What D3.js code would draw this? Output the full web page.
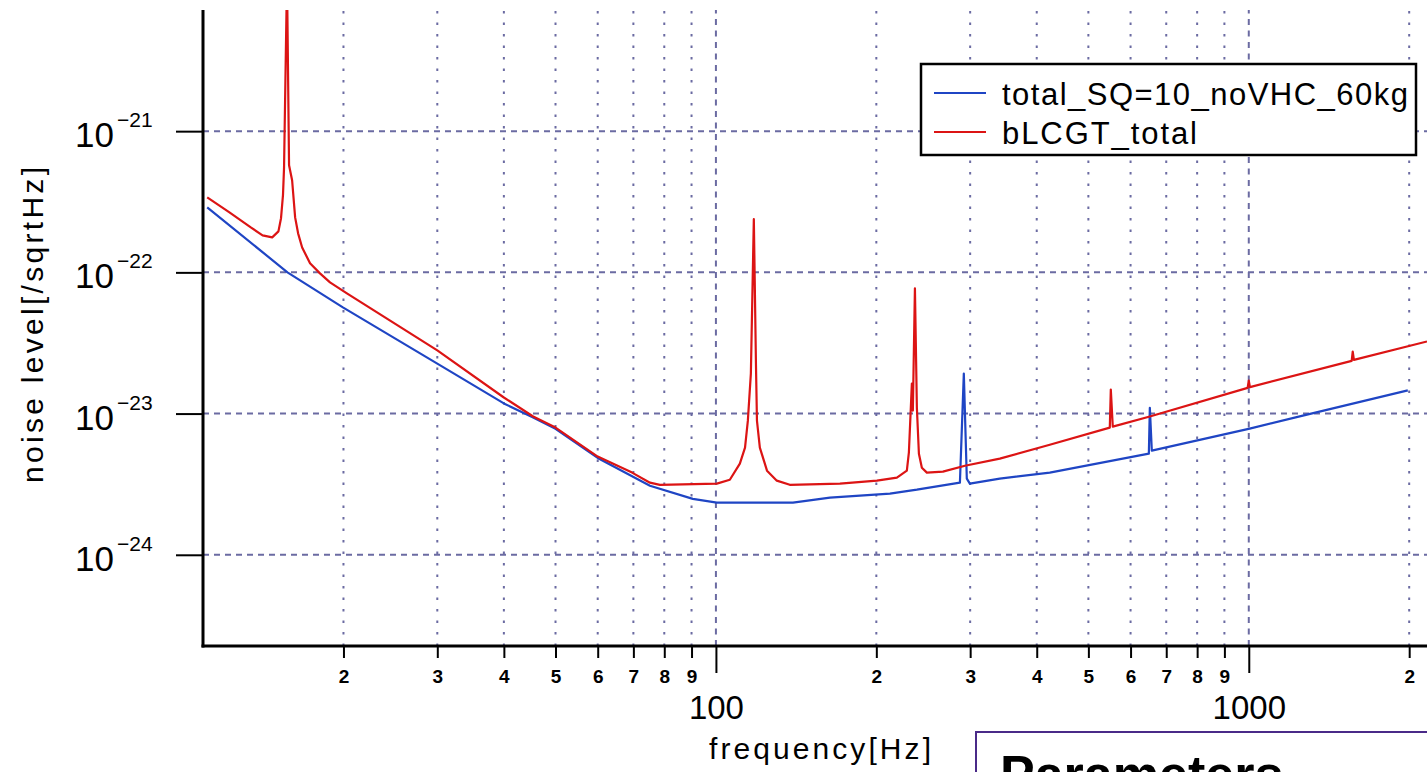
<!DOCTYPE html>
<html>
<head>
<meta charset="utf-8">
<script src="https://cdn.jsdelivr.net/npm/d3@7"></script>
<style>
  body { margin: 0; background: #fff; }
  svg { display: block; }
  text { font-family: "Liberation Sans", Arial, sans-serif; fill: #000; }
</style>
</head>
<body>
<script>
// total_SQ=10_noVHC_60kg (blue)
const sqFreq = [11.1, 15.7, 19.95, 30.0, 40.0, 45.4, 50.0, 60.0, 75.2, 90.5, 100.4, 139.5, 163.7, 212.1,
  238.3, 263.3, 287.0, 291.9, 295.7, 299.6, 341.0, 423.2, 649.3, 652.1, 657.7, 1004, 1263, 1988];
const sqNoise = [2.89e-22, 1.0e-22, 5.65e-23, 2.26e-23, 1.18e-23, 9.37e-24, 7.8e-24, 4.85e-24, 3.08e-24, 2.49e-24,
  2.34e-24, 2.34e-24, 2.54e-24, 2.71e-24, 2.89e-24, 3.08e-24, 3.24e-24, 1.92e-23, 3.46e-24, 3.19e-24,
  3.46e-24, 3.82e-24, 5.20e-24, 1.10e-23, 5.47e-24, 7.83e-24, 9.68e-24, 1.46e-23];

// bLCGT_total (red)
const bFreq = [11.1, 12.2, 13.4, 14.1, 14.7, 15.1, 15.27, 15.40, 15.47, 15.67, 15.81, 16.02, 16.23, 16.44,
  16.73, 17.31, 18.07, 18.87, 20.3, 30.0, 40.0, 45.4, 50.0, 60.0, 69.6, 75.2, 78.5, 100.4, 106.2, 110.9,
  113.4, 114.8, 116.3, 117.8, 118.9, 119.4, 120.9, 124.7, 130.1, 137.6, 170.9, 200.5, 218.6, 228.2,
  230.2, 233.2, 234.2, 236.3, 238.3, 240.4, 243.5, 248.8, 266.7, 293.3, 341.0, 423.2, 548.5, 550.9,
  555.6, 652.1, 995, 1000, 1005, 1560, 1567, 1575, 2160];
const bNoise = [3.40e-22, 2.67e-22, 2.08e-22, 1.83e-22, 1.77e-22, 1.95e-22, 2.42e-22, 3.52e-22, 5.47e-22,
  1.2e-20, 5.74e-22, 4.49e-22, 2.45e-22, 1.89e-22, 1.50e-22, 1.16e-22, 9.84e-23, 8.49e-23, 7.10e-23,
  2.80e-23, 1.30e-23, 9.53e-24, 7.96e-24, 4.96e-24, 3.82e-24, 3.24e-24, 3.13e-24, 3.19e-24, 3.40e-24,
  4.42e-24, 5.74e-24, 8.91e-24, 1.92e-23, 2.38e-22, 2.19e-23, 8.91e-24, 5.74e-24, 3.94e-24, 3.35e-24,
  3.13e-24, 3.19e-24, 3.35e-24, 3.52e-24, 3.94e-24, 5.28e-24, 1.63e-23, 1.05e-23, 7.71e-23, 1.10e-23,
  5.20e-24, 4.14e-24, 3.82e-24, 3.88e-24, 4.27e-24, 4.80e-24, 6.02e-24, 7.96e-24, 1.48e-23, 8.09e-24,
  9.53e-24, 1.52e-23, 1.71e-23, 1.54e-23, 2.36e-23, 2.75e-23, 2.40e-23, 3.24e-23];

const minorTicks = [20, 30, 40, 50, 60, 70, 80, 90, 200, 300, 400, 500, 600, 700, 800, 900, 2000];
const majorTicks = [100, 1000];
const yTicks = [1e-21, 1e-22, 1e-23, 1e-24];
const seriesNames = ["total_SQ=10_noVHC_60kg", "bLCGT_total"];

const width = 1427, height = 772;
const margin = { top: 10, right: 0, bottom: 126, left: 203 };
const blue = "#1f45c4", red = "#dc1414", gridColor = "#6b6ba2";

const svg = d3.select("body").append("svg")
  .attr("width", width)
  .attr("height", height);

const x = d3.scaleLog().domain([10.9, 2160]).range([margin.left, width - margin.right]);
const y = d3.scaleLog().domain([2.26e-25, 7.21e-21]).range([height - margin.bottom, margin.top]);

svg.append("clipPath").attr("id", "plot")
  .append("rect")
  .attr("x", margin.left).attr("y", margin.top)
  .attr("width", width - margin.left - margin.right)
  .attr("height", height - margin.top - margin.bottom);

// grid
const grid = svg.append("g");
grid.selectAll(".vminor").data(minorTicks).enter().append("line")
  .attr("x1", d => x(d)).attr("x2", d => x(d))
  .attr("y1", y.range()[0]).attr("y2", y.range()[1])
  .attr("stroke", gridColor).attr("stroke-width", 2)
  .attr("stroke-dasharray", "2.5,9");
grid.selectAll(".vmajor").data(majorTicks).enter().append("line")
  .attr("x1", d => x(d)).attr("x2", d => x(d))
  .attr("y1", y.range()[0]).attr("y2", y.range()[1])
  .attr("stroke", gridColor).attr("stroke-width", 2)
  .attr("stroke-dasharray", "6,5.5");
grid.selectAll(".h").data(yTicks).enter().append("line")
  .attr("x1", x.range()[0]).attr("x2", x.range()[1])
  .attr("y1", d => y(d)).attr("y2", d => y(d))
  .attr("stroke", gridColor).attr("stroke-width", 2)
  .attr("stroke-dasharray", "6,5");

// curves
const line = d3.line()
  .x(d => x(d[0]))
  .y(d => y(d[1]));

const plot = svg.append("g").attr("clip-path", "url(#plot)");
plot.append("path")
  .datum(d3.zip(sqFreq, sqNoise))
  .attr("fill", "none").attr("stroke", blue).attr("stroke-width", 2.2)
  .attr("stroke-linejoin", "round")
  .attr("d", line);
plot.append("path")
  .datum(d3.zip(bFreq, bNoise))
  .attr("fill", "none").attr("stroke", red).attr("stroke-width", 2.2)
  .attr("stroke-linejoin", "round")
  .attr("d", line);

// x axis
const y0 = y.range()[0];
const xMinor = svg.append("g")
  .attr("transform", "translate(0," + y0 + ")")
  .call(d3.axisBottom(x).tickValues(minorTicks).tickSize(12).tickSizeOuter(0).tickPadding(12)
    .tickFormat(d => String(d).charAt(0)));
xMinor.select(".domain").remove();
xMinor.selectAll(".tick line").attr("stroke", "#000").attr("stroke-width", 2);
xMinor.selectAll(".tick text").attr("font-size", 19).attr("font-weight", "bold")
  .style("font-family", "'Liberation Sans', Arial, sans-serif");

const xMajor = svg.append("g")
  .attr("transform", "translate(0," + y0 + ")")
  .call(d3.axisBottom(x).tickValues(majorTicks).tickSize(27).tickSizeOuter(0).tickPadding(23)
    .tickFormat(d3.format("d")));
xMajor.select(".domain").remove();
xMajor.selectAll(".tick line").attr("stroke", "#000").attr("stroke-width", 2);
xMajor.selectAll(".tick text").attr("font-size", 33)
  .style("font-family", "'Liberation Sans', Arial, sans-serif");

// y axis
const yAxis = svg.append("g")
  .attr("transform", "translate(" + margin.left + ",0)")
  .call(d3.axisLeft(y).tickValues(yTicks).tickSize(27).tickSizeOuter(0).tickFormat(""));
yAxis.select(".domain").remove();
yAxis.selectAll(".tick line").attr("stroke", "#000").attr("stroke-width", 2);

const yLab = svg.append("g").selectAll("g").data(yTicks).enter().append("g")
  .attr("transform", d => "translate(0," + y(d) + ")");
yLab.append("text")
  .attr("x", 114).attr("y", 16)
  .attr("text-anchor", "end").attr("font-size", 35)
  .text("10");
yLab.append("text")
  .attr("x", 117).attr("y", -4)
  .attr("font-size", 21)
  .text(d => "\u2212" + Math.abs(Math.round(Math.log10(d))));

// axis lines
svg.append("line")
  .attr("x1", margin.left).attr("x2", margin.left)
  .attr("y1", y.range()[1]).attr("y2", y0 + 1.5)
  .attr("stroke", "#000").attr("stroke-width", 3);
svg.append("line")
  .attr("x1", margin.left - 1.5).attr("x2", width)
  .attr("y1", y0).attr("y2", y0)
  .attr("stroke", "#000").attr("stroke-width", 3);

// axis titles
svg.append("text")
  .attr("transform", "translate(43,325) rotate(-90)")
  .attr("text-anchor", "middle")
  .attr("font-size", 30)
  .attr("textLength", 316).attr("lengthAdjust", "spacing")
  .text("noise level[/sqrtHz]");
svg.append("text")
  .attr("x", 820).attr("y", 759)
  .attr("text-anchor", "middle")
  .attr("font-size", 30)
  .attr("textLength", 222).attr("lengthAdjust", "spacing")
  .text("frequency[Hz]");

// legend
const legend = svg.append("g");
legend.append("rect")
  .attr("x", 921).attr("y", 64).attr("width", 495).attr("height", 91)
  .attr("fill", "#fff").attr("stroke", "#000").attr("stroke-width", 2.5);
const legendColors = [blue, red];
const legendWidths = [406, 195];
seriesNames.forEach((name, i) => {
  const ly = 93 + i * 39;
  legend.append("line")
    .attr("x1", 934).attr("x2", 986)
    .attr("y1", ly).attr("y2", ly)
    .attr("stroke", legendColors[i]).attr("stroke-width", 2);
  legend.append("text")
    .attr("x", 1002).attr("y", ly + 12)
    .attr("font-size", 31)
    .attr("textLength", legendWidths[i]).attr("lengthAdjust", "spacing")
    .text(name);
});

// parameters box (cut off at the bottom edge, as in the slide)
svg.append("rect")
  .attr("x", 976).attr("y", 732).attr("width", 500).attr("height", 100)
  .attr("fill", "#fff").attr("stroke", "#4a2a88").attr("stroke-width", 2);
svg.append("text")
  .attr("x", 1000).attr("y", 792)
  .attr("font-size", 52).attr("font-weight", "bold")
  .text("Parameters");
</script>
</body>
</html>
